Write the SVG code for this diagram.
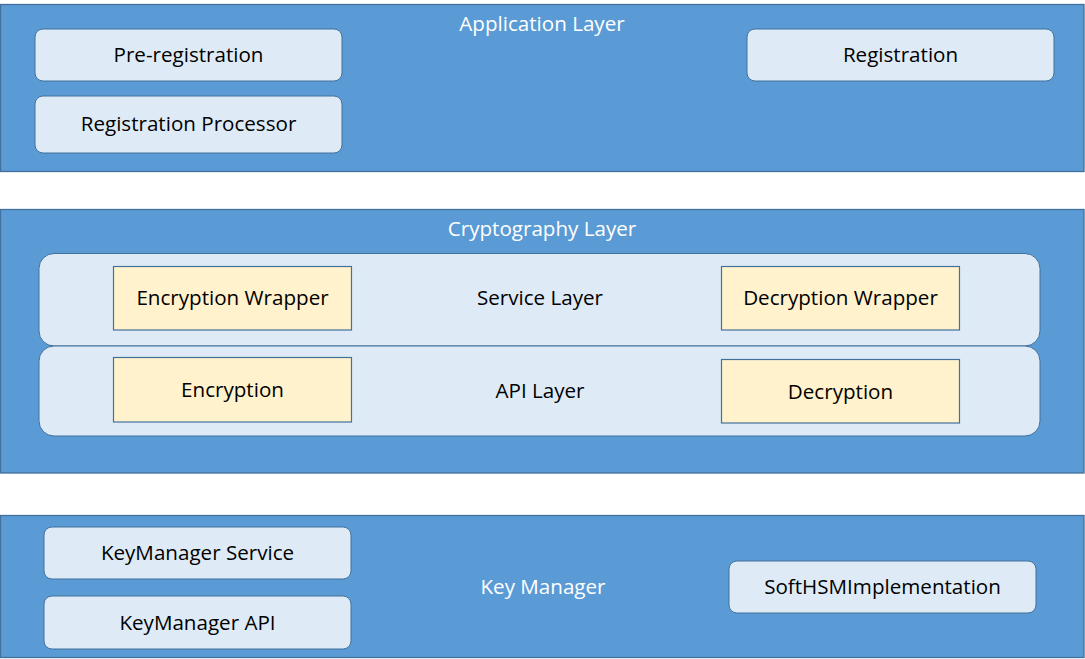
<svg xmlns="http://www.w3.org/2000/svg" width="1085" height="659" viewBox="0 0 1085 659">
<style>
.layer{fill:#5B9BD5;stroke:#41719C;stroke-width:1.3}
.box{fill:#DEEBF7;stroke:#41719C;stroke-width:1}
.sub{fill:#DEEBF7;stroke:#41719C;stroke-width:1}
.yel{fill:#FFF2CC;stroke:#41719C;stroke-width:1.2}
text{font-family:"Open Sans","Liberation Sans",sans-serif;font-size:20.6px;text-anchor:middle}
.lt{fill:#FFFFFF}
.dt{fill:#000000}
</style>
<rect width="1085" height="659" fill="#FFFFFF"/>
<g id="application-layer">
<rect class="layer" x="0.5" y="4.5" width="1083.5" height="167"/>
<text class="lt" x="542" y="31">Application Layer</text>
</g>
<g id="pre-registration">
<rect class="box" x="35" y="29" width="307" height="52" rx="8"/>
<text class="dt" x="188.5" y="62">Pre-registration</text>
</g>
<g id="registration-processor">
<rect class="box" x="35" y="96" width="307" height="57" rx="8"/>
<text class="dt" x="188.5" y="131">Registration Processor</text>
</g>
<g id="registration">
<rect class="box" x="747" y="29" width="307" height="52" rx="8"/>
<text class="dt" x="900.5" y="62">Registration</text>
</g>
<g id="cryptography-layer">
<rect class="layer" x="0.5" y="209.5" width="1083.5" height="263.5"/>
<text class="lt" x="542" y="236">Cryptography Layer</text>
</g>
<g id="service-layer">
<rect class="sub" x="39" y="253.5" width="1001" height="92.5" rx="15"/>
<text class="dt" x="540" y="305">Service Layer</text>
</g>
<g id="api-layer">
<rect class="sub" x="39" y="346" width="1001" height="90" rx="15"/>
<text class="dt" x="540" y="398">API Layer</text>
</g>
<g id="encryption-wrapper">
<rect class="yel" x="113.5" y="266.5" width="238" height="63.5"/>
<text class="dt" x="232.5" y="305">Encryption Wrapper</text>
</g>
<g id="encryption">
<rect class="yel" x="113.5" y="357.5" width="238" height="64.5"/>
<text class="dt" x="232.5" y="397">Encryption</text>
</g>
<g id="decryption-wrapper">
<rect class="yel" x="721.5" y="266.5" width="238" height="63.5"/>
<text class="dt" x="840.5" y="305">Decryption Wrapper</text>
</g>
<g id="decryption">
<rect class="yel" x="721.5" y="359.5" width="238" height="63.5"/>
<text class="dt" x="840.5" y="399">Decryption</text>
</g>
<g id="key-manager-layer">
<rect class="layer" x="0.5" y="515.5" width="1083.5" height="142"/>
<text class="lt" x="543" y="594">Key Manager</text>
</g>
<g id="keymanager-service">
<rect class="box" x="44" y="527" width="307" height="52" rx="8"/>
<text class="dt" x="197.5" y="560">KeyManager Service</text>
</g>
<g id="keymanager-api">
<rect class="box" x="44" y="596" width="307" height="53" rx="8"/>
<text class="dt" x="197.5" y="630">KeyManager API</text>
</g>
<g id="softhsm-implementation">
<rect class="box" x="729" y="561" width="307" height="52" rx="8"/>
<text class="dt" x="882.5" y="594">SoftHSMImplementation</text>
</g>
<g id="connectors"></g>
</svg>
